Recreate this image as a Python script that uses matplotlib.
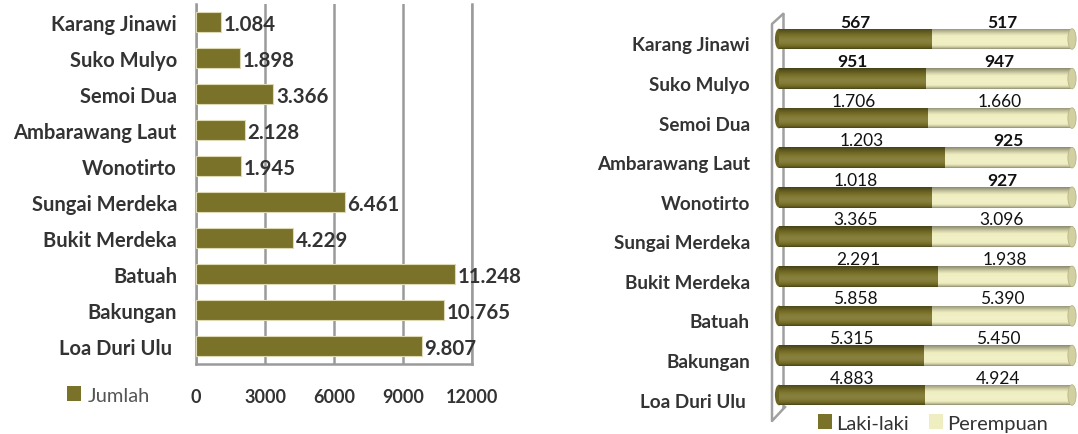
import numpy as np
import matplotlib
matplotlib.use("Agg")
import matplotlib.pyplot as plt
from matplotlib.patches import Patch, Rectangle, Ellipse
from matplotlib.lines import Line2D
from matplotlib.transforms import ScaledTranslation

plt.rcParams['font.family'] = ['Lato', 'DejaVu Sans']

# data (top to bottom as in the picture)
desa = ['Karang Jinawi', 'Suko Mulyo', 'Semoi Dua', 'Ambarawang Laut', 'Wonotirto',
        'Sungai Merdeka', 'Bukit Merdeka', 'Batuah', 'Bakungan', 'Loa Duri Ulu ']
jumlah = [1084, 1898, 3366, 2128, 1945, 6461, 4229, 11248, 10765, 9807]
laki = [567, 951, 1706, 1203, 1018, 3365, 2291, 5858, 5315, 4883]
perempuan = [517, 947, 1660, 925, 927, 3096, 1938, 5390, 5450, 4924]
x_ticks = [0, 3000, 6000, 9000, 12000]

OLIVE = '#7a7229'
LIGHT = '#efeec0'
TXT = '#333333'
GRID = '#9a9a9a'


def fmt(v):
    return f"{v:,}".replace(",", ".")


W, H = 1078, 435
fig = plt.figure(figsize=(W / 100, H / 100), dpi=100)

n = len(desa)
ypos = np.arange(n)[::-1]

# ---------------- left chart: Jumlah ----------------
ax1 = fig.add_axes([196 / W, 1 - 365 / H, 276 / W, 360 / H])
ax1.barh(ypos, jumlah, height=0.555, color=OLIVE, edgecolor='#dcd9b4', linewidth=0.8, zorder=3)
for y, v in zip(ypos, jumlah):
    ax1.annotate(fmt(v), (v, y), xytext=(2, -1.5), textcoords='offset points',
                 ha='left', va='center', fontsize=14.7, fontweight='bold', color=TXT, zorder=4)
ax1.set_xlim(0, 12000)
ax1.set_ylim(-0.5, n - 0.5)
ax1.set_xticks(x_ticks)
ax1.set_xticklabels([str(t) for t in x_ticks], fontsize=13, fontweight='bold', color=TXT)
ax1.set_yticks(ypos)
ax1.set_yticklabels(desa, fontsize=14.5, fontweight='bold', color=TXT)
ax1.tick_params(axis='x', length=0, pad=17)
ax1.tick_params(axis='y', length=0, pad=13.7)
ax1.grid(axis='x', color=GRID, linewidth=1.8, zorder=0)
ax1.set_axisbelow(True)
ax1.spines['top'].set_visible(False)
for s in ['left', 'bottom', 'right']:
    ax1.spines[s].set_color(GRID)
    ax1.spines[s].set_linewidth(1.8)

fig.legend(handles=[Patch(facecolor=OLIVE, edgecolor='none', label='Jumlah')],
           loc='center left', bbox_to_anchor=(67 / W, 1 - 396 / H), frameon=False,
           handlelength=0.7, handleheight=0.7, handletextpad=0.35, borderpad=0,
           borderaxespad=0, prop={'size': 14.5}, labelcolor='#555555')

# ---------------- right chart: Laki-laki / Perempuan ----------------
ax2 = fig.add_axes([779 / W, 1 - 415.8 / H, 293 / W, 395.6 / H])
ax2.set_xlim(0, 1)
ax2.set_ylim(-0.5, n - 0.5)
ax2.axis('off')

bh = 0.52
cap_w = 0.028
t = np.linspace(0, 1, 60)
shade = 0.58 + 0.54 * np.sin(np.pi * t ** 0.75)


def cyl_img(color):
    c = np.array(matplotlib.colors.to_rgb(color))
    img = np.empty((len(t), 1, 3))
    for k, s in enumerate(shade):
        if s <= 1:
            img[k, 0] = c * s
        else:
            img[k, 0] = c + (1 - c) * (s - 1) * 0.8
    return np.clip(img, 0, 1)


img_l = cyl_img(OLIVE)
img_p = cyl_img(LIGHT)

# back edge of the 3D wall (behind the bars)
fig.add_artist(Line2D([783 / W, 783 / W], [1 - 15 / H, 1 - 408 / H], transform=fig.transFigure,
                      color='#a0a0a0', linewidth=1.8, zorder=0))

for y, l, p in zip(ypos, laki, perempuan):
    tot = l + p
    fl = l / tot
    ax2.add_patch(Ellipse((0, y), cap_w, bh, facecolor='#6b6423', edgecolor='none',
                          zorder=1, clip_on=False))
    for x0, x1, img in [(0, fl, img_l), (fl, 1, img_p)]:
        r = Rectangle((x0, y - bh / 2), x1 - x0, bh, facecolor='none', edgecolor='none')
        ax2.add_patch(r)
        im = ax2.imshow(img, extent=(x0, x1, y - bh / 2, y + bh / 2), origin='lower',
                        aspect='auto', interpolation='bilinear', zorder=2)
        im.set_clip_path(r)
    ax2.add_patch(Ellipse((1, y), cap_w, bh, facecolor='#d2d0a0', edgecolor='#b8b68a',
                          linewidth=0.6, zorder=3, clip_on=False))
    wt = 'bold' if l < 1000 else 'normal'
    ax2.text(fl / 2, y + 0.44, fmt(l), ha='center', va='center', fontsize=12.5,
             fontweight=wt, color='#111111')
    wt = 'bold' if p < 1000 else 'normal'
    ax2.text(fl + (1 - fl) / 2, y + 0.44, fmt(p), ha='center', va='center', fontsize=12.5,
             fontweight=wt, color='#111111')

# category labels, a little below the bars
off = ScaledTranslation(0, -6 / 100, fig.dpi_scale_trans)
for y, name in zip(ypos, desa):
    ax2.text(-29 / 293, y, name, ha='right', va='center', fontsize=13.6, fontweight='bold',
             color=TXT, transform=ax2.transData + off, clip_on=False)

# front edge of the 3D wall
fig.add_artist(Line2D([783 / W, 772 / W, 772 / W, 785 / W],
                      [1 - 15 / H, 1 - 25 / H, 1 - 422 / H, 1 - 408 / H],
                      transform=fig.transFigure, color='#a0a0a0', linewidth=1.8))

fig.legend(handles=[Patch(facecolor=OLIVE, edgecolor='none', label='Laki-laki'),
                    Patch(facecolor=LIGHT, edgecolor='none', label='Perempuan')],
           loc='center left', bbox_to_anchor=(818 / W, 1 - 424 / H), frameon=False, ncol=2,
           handlelength=0.7, handleheight=0.7, handletextpad=0.2, columnspacing=1.0,
           borderpad=0, borderaxespad=0, prop={'size': 14.5}, labelcolor=TXT)

fig.savefig('out.png', dpi=100)
